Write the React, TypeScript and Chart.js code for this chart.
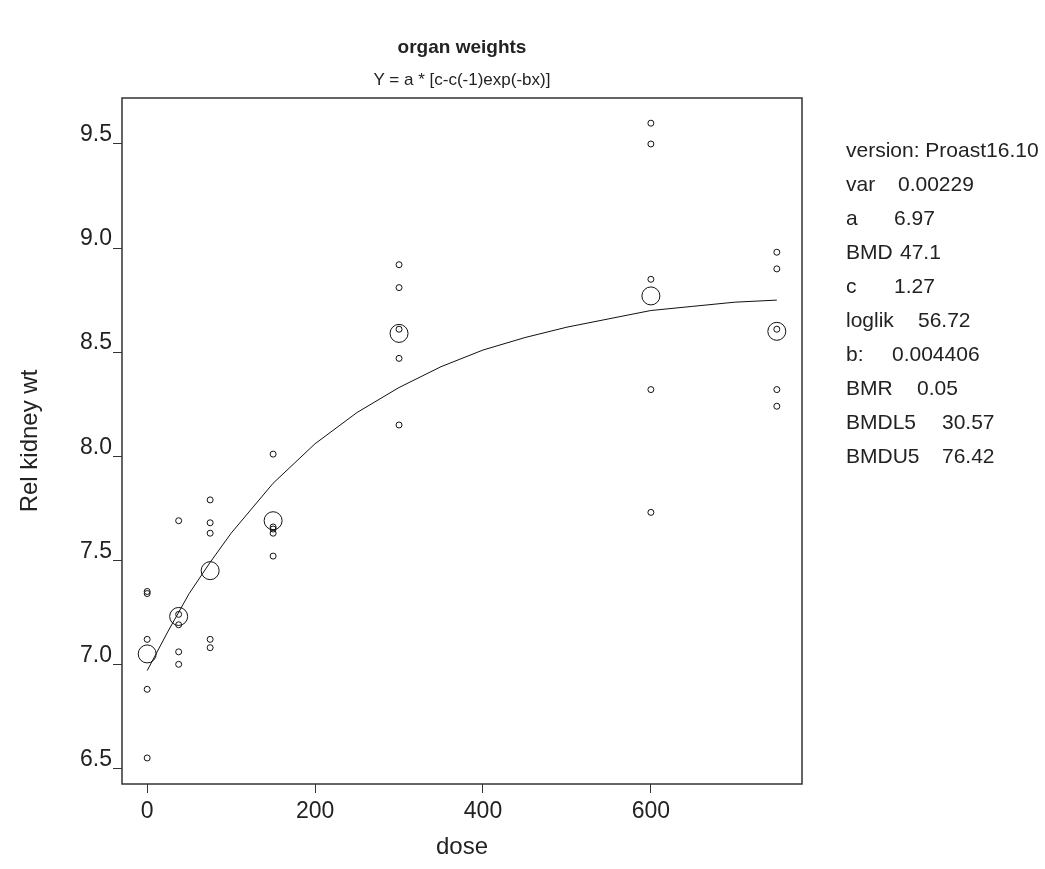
import React, { useEffect, useRef } from "react";
import { Chart, registerables } from "chart.js";
Chart.register(...registerables);

const FONT = "'Liberation Sans', Arial, Helvetica, sans-serif";

// dose groups
const doses = [0, 37.5, 75, 150, 300, 600, 750];
// individual observations per dose group
const obsDose0 = [7.35, 7.34, 7.12, 6.88, 6.55];
const obsDose37 = [7.69, 7.24, 7.19, 7.06, 7.0];
const obsDose75 = [7.79, 7.68, 7.63, 7.12, 7.08];
const obsDose150 = [8.01, 7.66, 7.65, 7.63, 7.52];
const obsDose300 = [8.92, 8.81, 8.61, 8.47, 8.15];
const obsDose600 = [9.6, 9.5, 8.85, 8.32, 7.73];
const obsDose750 = [8.98, 8.9, 8.61, 8.32, 8.24];
// group means (large symbols)
const groupMeans = [7.05, 7.23, 7.45, 7.69, 8.59, 8.77, 8.6];
// fitted curve
const curveDoses = [0, 25, 50, 75, 100, 150, 200, 250, 300, 350, 400, 450, 500, 550, 600, 650, 700, 750];
const curveValues = [6.97, 7.16, 7.34, 7.49, 7.63, 7.87, 8.06, 8.21, 8.33, 8.43, 8.51, 8.57, 8.62, 8.66, 8.7, 8.72, 8.74, 8.75];

const xTicks = [0, 200, 400, 600];
const yTicks = [6.5, 7.0, 7.5, 8.0, 8.5, 9.0, 9.5];

const titleText = "organ weights";
const subtitleText = "Y = a * [c-c(-1)exp(-bx)]";
const versionText = "version: Proast16.10";
const infoLabels = ["var", "a", "BMD", "c", "loglik", "b:", "BMR", "BMDL5", "BMDU5"];
const infoValues = ["0.00229", "6.97", "47.1", "1.27", "56.72", "0.004406", "0.05", "30.57", "76.42"];
const infoValueLeft = [898, 894, 900, 894, 918, 892, 917, 942, 942];

const obsGroups = [obsDose0, obsDose37, obsDose75, obsDose150, obsDose300, obsDose600, obsDose750];

const framePlugin = {
  id: "frame",
  afterDraw(chart: any) {
    const { ctx, chartArea: a } = chart;
    ctx.save();
    ctx.strokeStyle = "#333";
    ctx.lineWidth = 1.5;
    ctx.strokeRect(a.left, a.top, a.right - a.left, a.bottom - a.top);
    ctx.restore();
  },
};

const sideStyle: React.CSSProperties = {
  position: "absolute",
  lineHeight: "24px",
  whiteSpace: "pre",
  fontFamily: FONT,
  fontSize: 21,
  color: "#222",
};

export default function App() {
  const ref = useRef<HTMLCanvasElement | null>(null);

  useEffect(() => {
    document.body.style.margin = "0";
    const points: { x: number; y: number }[] = [];
    obsGroups.forEach((g, i) => g.forEach((v) => points.push({ x: doses[i], y: v })));
    const means = groupMeans.map((v, i) => ({ x: doses[i], y: v }));
    const curve = curveValues.map((v, i) => ({ x: curveDoses[i], y: v }));

    const chart = new Chart(ref.current as HTMLCanvasElement, {
      type: "scatter",
      data: {
        datasets: [
          {
            label: "curve",
            data: curve,
            showLine: true,
            borderColor: "#111",
            borderWidth: 1,
            pointRadius: 0,
            tension: 0,
          },
          {
            label: "observations",
            data: points,
            pointStyle: "circle",
            pointRadius: 3,
            borderColor: "#111",
            borderWidth: 1,
            backgroundColor: "rgba(0,0,0,0)",
          },
          {
            label: "means",
            data: means,
            pointStyle: "circle",
            pointRadius: 9,
            borderColor: "#111",
            borderWidth: 1,
            backgroundColor: "rgba(0,0,0,0)",
          },
        ],
      },
      options: {
        animation: false,
        responsive: false,
        devicePixelRatio: 1,
        layout: { padding: { top: 98, right: 243, bottom: 0, left: 0 } },
        plugins: { legend: { display: false }, tooltip: { enabled: false } },
        scales: {
          x: {
            type: "linear",
            min: -30,
            max: 780,
            afterBuildTicks: (s: any) => {
              s.ticks = xTicks.map((v) => ({ value: v }));
            },
            afterFit: (s: any) => {
              s.height = 85;
            },
            ticks: { font: { family: FONT, size: 23 }, color: "#222", padding: 5 },
            grid: { drawOnChartArea: false, drawTicks: true, tickLength: 9, color: "#333" },
            border: { display: false },
            title: {
              display: true,
              text: "dose",
              color: "#222",
              font: { family: FONT, size: 24 },
              padding: { top: 0, bottom: 7 },
            },
          },
          y: {
            type: "linear",
            min: 6.425,
            max: 9.721,
            afterBuildTicks: (s: any) => {
              s.ticks = yTicks.map((v) => ({ value: v }));
            },
            afterFit: (s: any) => {
              s.width = 122;
            },
            ticks: {
              font: { family: FONT, size: 23 },
              color: "#222",
              padding: 1,
              labelOffset: -9,
              callback: (v: any) => Number(v).toFixed(1),
            },
            grid: { drawOnChartArea: false, drawTicks: true, tickLength: 9, color: "#333" },
            border: { display: false },
            title: {
              display: true,
              text: "Rel kidney wt",
              color: "#222",
              font: { family: FONT, size: 24 },
              padding: { top: 16, bottom: 0 },
            },
          },
        },
      },
      plugins: [framePlugin],
    });
    return () => chart.destroy();
  }, []);

  return (
    <div style={{ position: "absolute", left: 0, top: 0, width: 1045, height: 869, background: "#fff" }}>
      <canvas ref={ref} width={1045} height={869} style={{ position: "absolute", left: 0, top: 0 }} />
      <div
        style={{
          position: "absolute",
          left: 122,
          width: 680,
          top: 36,
          lineHeight: "22px",
          textAlign: "center",
          fontFamily: FONT,
          fontWeight: "bold",
          fontSize: 19,
          color: "#222",
        }}
      >
        {titleText}
      </div>
      <div
        style={{
          position: "absolute",
          left: 122,
          width: 680,
          top: 69,
          lineHeight: "22px",
          textAlign: "center",
          fontFamily: FONT,
          fontSize: 17,
          color: "#222",
        }}
      >
        {subtitleText}
      </div>
      <div style={{ ...sideStyle, left: 846, top: 138 }}>{versionText}</div>
      {infoLabels.map((t, i) => (
        <React.Fragment key={i}>
          <div style={{ ...sideStyle, left: 846, top: 138 + 34 * (i + 1) }}>{t}</div>
          <div style={{ ...sideStyle, left: infoValueLeft[i], top: 138 + 34 * (i + 1) }}>{infoValues[i]}</div>
        </React.Fragment>
      ))}
    </div>
  );
}
